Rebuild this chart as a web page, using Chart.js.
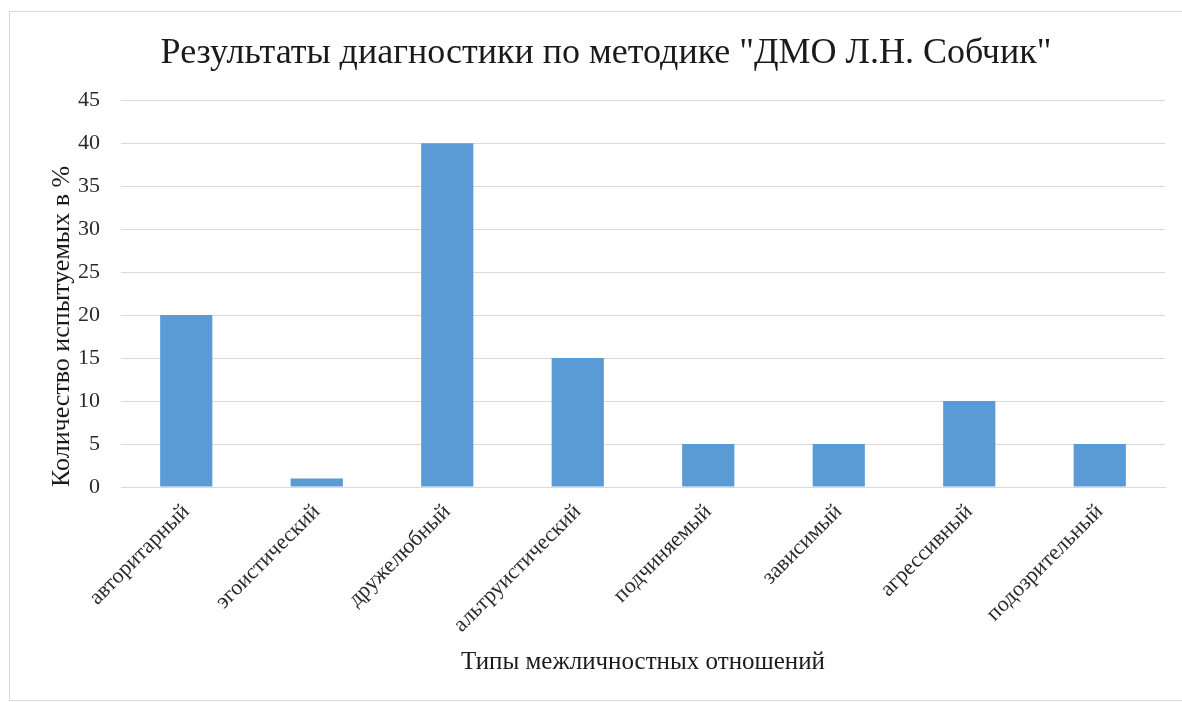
<!DOCTYPE html>
<html lang="ru">
<head>
<meta charset="utf-8">
<title>Результаты диагностики</title>
<script src="https://cdn.jsdelivr.net/npm/chart.js@4"></script>
<style>
    html, body { margin: 0; padding: 0; background: #ffffff; }
    #frame {
        position: absolute;
        left: 9px;
        top: 11px;
        width: 1172px;
        height: 688px;
        border: 1px solid #d9d9d9;
        border-right: none;
        background: #ffffff;
    }
    canvas { display: block; }
</style>
</head>
<body>
<div id="frame">
    <canvas id="chart" width="1172" height="688"></canvas>
</div>
<script>
const types = [
    'авторитарный',
    'эгоистический',
    'дружелюбный',
    'альтруистический',
    'подчиняемый',
    'зависимый',
    'агрессивный',
    'подозрительный',
];

const percents = [20, 1, 40, 15, 5, 5, 10, 5];

const yTicks = [0, 5, 10, 15, 20, 25, 30, 35, 40, 45];

const serif = "'Liberation Serif', 'Times New Roman', serif";

var myChart = new Chart(
    document.getElementById('chart'),
    {
        type: 'bar',
        data: {
            labels: types,
            datasets: [{
                label: 'Количество испытуемых в %',
                backgroundColor: '#5b9bd5',
                borderWidth: 0,
                data: percents,
                barPercentage: 0.4,
                categoryPercentage: 1,
            }]
        },
        options: {
            responsive: false,
            animation: false,
            layout: {
                padding: { left: 37, right: 17, top: 0, bottom: 23 }
            },
            plugins: {
                legend: { display: false },
                tooltip: { enabled: false },
                title: {
                    display: true,
                    text: 'Результаты диагностики по методике "ДМО Л.Н. Собчик"',
                    color: '#1a1a1a',
                    font: { family: serif, size: 36, weight: 'normal' },
                    padding: { top: 20, bottom: 25 }
                }
            },
            scales: {
                x: {
                    grid: { display: false },
                    border: { display: true, color: '#d9d9d9', width: 1 },
                    ticks: {
                        color: '#2a2a2a',
                        font: { family: serif, size: 22 },
                        minRotation: 45,
                        maxRotation: 45,
                        padding: 4
                    },
                    title: {
                        display: true,
                        text: 'Типы межличностных отношений',
                        color: '#1a1a1a',
                        font: { family: serif, size: 25 },
                        padding: 0
                    },
                    afterFit: (scale) => { scale.height = 190; }
                },
                y: {
                    min: 0,
                    max: 45,
                    afterBuildTicks: (scale) => {
                        scale.ticks = yTicks.map((v) => ({ value: v }));
                    },
                    grid: {
                        color: '#d9d9d9',
                        drawTicks: false
                    },
                    border: { display: false },
                    ticks: {
                        color: '#2a2a2a',
                        font: { family: serif, size: 22 },
                        padding: 21
                    },
                    title: {
                        display: true,
                        text: 'Количество испытуемых в %',
                        align: 'start',
                        color: '#1a1a1a',
                        font: { family: serif, size: 26 },
                        padding: 0
                    },
                    afterFit: (scale) => { scale.width = 74; }
                }
            }
        }
    }
);
</script>
</body>
</html>
